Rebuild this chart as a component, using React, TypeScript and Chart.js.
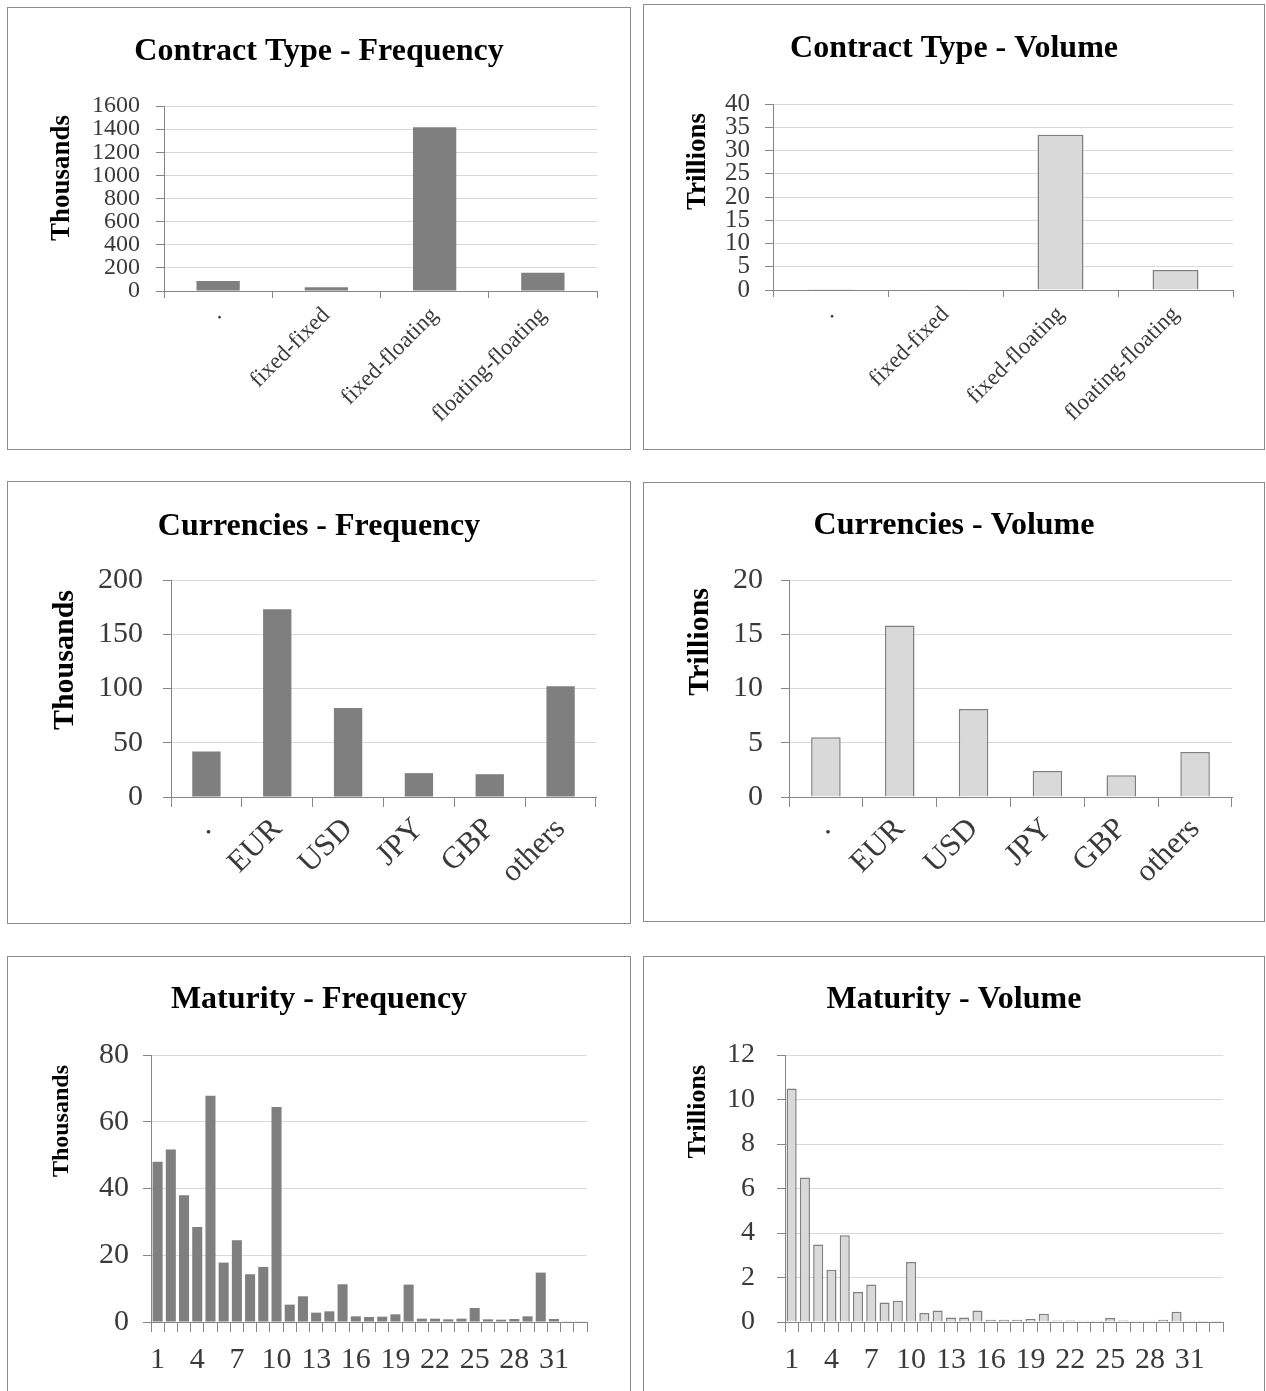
import React, { useEffect, useRef } from 'react';
import { Chart, registerables } from 'chart.js';

Chart.register(...registerables);

// ---------- data ----------
const contractLabels = ['.', 'fixed-fixed', 'fixed-floating', 'floating-floating'];
const contractFrequency = [86, 32, 1416, 158];
const contractVolume = [0.2, 0.15, 33.4, 4.3];

const currencyLabels = ['.', 'EUR', 'USD', 'JPY', 'GBP', 'others'];
const currencyFrequency = [42, 173, 82, 22, 21, 102];
const currencyVolume = [5.5, 15.8, 8.1, 2.4, 2.0, 4.15];

const maturityLabels = [
  '1', '2', '3', '4', '5', '6', '7', '8', '9', '10', '11',
  '12', '13', '14', '15', '16', '17', '18', '19', '20', '21', '22',
  '23', '24', '25', '26', '27', '28', '29', '30', '31', '32', '33',
];
const maturityFrequency = [
  48, 51.7, 38, 28.5, 67.8, 17.8, 24.5, 14.3, 16.5, 64.4, 5.2,
  7.7, 2.8, 3.2, 11.3, 1.7, 1.5, 1.6, 2.3, 11.2, 1.0, 1.0,
  0.8, 1.0, 4.2, 0.8, 0.7, 0.9, 1.7, 14.8, 0.9, 0.2, 0.2,
];
const maturityVolume = [
  10.5, 6.5, 3.48, 2.35, 3.9, 1.35, 1.68, 0.88, 0.96, 2.7, 0.4,
  0.52, 0.2, 0.2, 0.52, 0.1, 0.1, 0.1, 0.13, 0.37, 0.07, 0.07,
  0.06, 0.06, 0.18, 0.07, 0.06, 0.06, 0.1, 0.46, 0.06, 0.05, 0.05,
];

// ---------- styles ----------
const FONT = '"Liberation Serif", "Times New Roman", serif';
const AXIS = '#868686';
const GRID = '#d9d9d9';
const TICK_TEXT = '#3a3a3a';
const DARK_FILL = '#7f7f7f';
const LIGHT_FILL = '#d9d9d9';
const LIGHT_BORDER = '#7f7f7f';

type Spec = {
  key: string;
  left: number; top: number; right: number; bottom: number;
  title: string; titleY: number;
  yTitle: string; yTitleX: number; yTitleOffset: number; yTitleSize: number;
  labels: string[]; values: number[];
  dark: boolean;
  yMax: number; yStep: number;
  plotL: number; plotT: number; plotR: number; plotB: number;
  yTickSize: number; xTickSize: number; yPad: number; xPad: number;
  rotation: number; every: number; barPct: number; xTickLen: number;
};

const specs: Spec[] = [
  {
    key: 'tl', left: 7, top: 7, right: 630, bottom: 449,
    title: 'Contract Type - Frequency', titleY: 52,
    yTitle: 'Thousands', yTitleX: 62, yTitleOffset: 9, yTitleSize: 27,
    labels: contractLabels, values: contractFrequency, dark: true,
    yMax: 1600, yStep: 200,
    plotL: 164, plotT: 106, plotR: 597, plotB: 291,
    yTickSize: 24, xTickSize: 23, yPad: 16, xPad: 4,
    rotation: 45, every: 1, barPct: 0.4, xTickLen: 7,
  },
  {
    key: 'tr', left: 643, top: 4, right: 1264, bottom: 449,
    title: 'Contract Type - Volume', titleY: 49,
    yTitle: 'Trillions', yTitleX: 698, yTitleOffset: 9, yTitleSize: 27,
    labels: contractLabels, values: contractVolume, dark: false,
    yMax: 40, yStep: 5,
    plotL: 773, plotT: 104, plotR: 1233, plotB: 290,
    yTickSize: 25, xTickSize: 23, yPad: 15, xPad: 4,
    rotation: 45, every: 1, barPct: 0.4, xTickLen: 7,
  },
  {
    key: 'ml', left: 7, top: 481, right: 630, bottom: 923,
    title: 'Currencies - Frequency', titleY: 527,
    yTitle: 'Thousands', yTitleX: 65, yTitleOffset: 10, yTitleSize: 30,
    labels: currencyLabels, values: currencyFrequency, dark: true,
    yMax: 200, yStep: 50,
    plotL: 171, plotT: 580, plotR: 596, plotB: 797,
    yTickSize: 30, xTickSize: 31, yPad: 20, xPad: 4,
    rotation: 45, every: 1, barPct: 0.4, xTickLen: 10,
  },
  {
    key: 'mr', left: 643, top: 482, right: 1264, bottom: 921,
    title: 'Currencies - Volume', titleY: 526,
    yTitle: 'Trillions', yTitleX: 700, yTitleOffset: 8, yTitleSize: 30,
    labels: currencyLabels, values: currencyVolume, dark: false,
    yMax: 20, yStep: 5,
    plotL: 789, plotT: 580, plotR: 1232, plotB: 797,
    yTickSize: 30, xTickSize: 31, yPad: 18, xPad: 4,
    rotation: 45, every: 1, barPct: 0.4, xTickLen: 10,
  },
  {
    key: 'bl', left: 7, top: 956, right: 630, bottom: 1406,
    title: 'Maturity - Frequency', titleY: 1000,
    yTitle: 'Thousands', yTitleX: 62, yTitleOffset: 10, yTitleSize: 24,
    labels: maturityLabels, values: maturityFrequency, dark: true,
    yMax: 80, yStep: 20,
    plotL: 151, plotT: 1055, plotR: 587, plotB: 1322,
    yTickSize: 30, xTickSize: 30, yPad: 14, xPad: 10,
    rotation: 0, every: 3, barPct: 0.76, xTickLen: 10,
  },
  {
    key: 'br', left: 643, top: 956, right: 1264, bottom: 1406,
    title: 'Maturity - Volume', titleY: 1000,
    yTitle: 'Trillions', yTitleX: 698, yTitleOffset: 10, yTitleSize: 26,
    labels: maturityLabels, values: maturityVolume, dark: false,
    yMax: 12, yStep: 2,
    plotL: 785, plotT: 1055, plotR: 1223, plotB: 1322,
    yTickSize: 28, xTickSize: 30, yPad: 22, xPad: 10,
    rotation: 0, every: 3, barPct: 0.76, xTickLen: 10,
  },
];

const titlesPlugin = {
  id: 'panelTitles',
  afterDraw(chart: any, _args: any, opts: any) {
    const { ctx, chartArea } = chart;
    ctx.save();
    ctx.fillStyle = '#000000';
    ctx.textAlign = 'center';
    ctx.textBaseline = 'middle';
    ctx.font = `bold 32px ${FONT}`;
    ctx.fillText(opts.title, opts.titleX, opts.titleY);
    ctx.translate(opts.axisX, chartArea.top + opts.axisOffset);
    ctx.rotate(-Math.PI / 2);
    ctx.textAlign = 'right';
    ctx.font = `bold ${opts.axisSize}px ${FONT}`;
    ctx.fillText(opts.axisTitle, 0, 0);
    ctx.restore();
  },
};

function Panel({ s }: { s: Spec }) {
  const ref = useRef<HTMLCanvasElement>(null);
  const ox = s.left + 1;
  const oy = s.top + 1;
  const W = s.right - s.left - 1;
  const H = s.bottom - s.top - 1;

  useEffect(() => {
    if (!ref.current) return;
    const plotLeft = s.plotL - ox;
    const plotTop = s.plotT - oy;
    const plotRight = s.plotR - ox;
    const plotBottom = s.plotB - oy;
    const chart = new Chart(ref.current, {
      type: 'bar',
      data: {
        labels: s.labels,
        datasets: [
          {
            data: s.values,
            backgroundColor: s.dark ? DARK_FILL : LIGHT_FILL,
            borderColor: s.dark ? DARK_FILL : LIGHT_BORDER,
            borderWidth: s.dark ? 0 : 1.5,
            barPercentage: s.barPct,
            categoryPercentage: 1,
          },
        ],
      },
      plugins: [titlesPlugin as any],
      options: {
        animation: false,
        responsive: false,
        devicePixelRatio: 1,
        layout: {
          autoPadding: false,
          padding: { left: 0, top: plotTop, right: W - plotRight, bottom: 0 },
        },
        plugins: {
          legend: { display: false },
          tooltip: { enabled: false },
          title: { display: false },
          panelTitles: {
            title: s.title,
            titleX: W / 2,
            titleY: s.titleY - oy,
            axisTitle: s.yTitle,
            axisX: s.yTitleX - ox,
            axisOffset: s.yTitleOffset,
            axisSize: s.yTitleSize,
          },
        } as any,
        scales: {
          x: {
            offset: true,
            grid: {
              offset: true,
              drawOnChartArea: false,
              drawTicks: true,
              tickLength: s.xTickLen,
              color: AXIS,
              lineWidth: 1,
            },
            border: { display: true, color: AXIS, width: 1 },
            ticks: {
              autoSkip: false,
              minRotation: s.rotation,
              maxRotation: s.rotation,
              padding: s.xPad,
              color: TICK_TEXT,
              font: { family: FONT, size: s.xTickSize },
              callback: (_v: any, i: number) => (i % s.every === 0 ? s.labels[i] : ''),
            },
            afterFit: (scale: any) => {
              scale.height = H - plotBottom;
            },
          },
          y: {
            min: 0,
            max: s.yMax,
            grid: {
              color: (c: any) => (c.tick && c.tick.value === 0 ? AXIS : GRID),
              tickColor: AXIS,
              tickLength: 8,
              drawTicks: true,
              lineWidth: 1,
            },
            border: { display: true, color: AXIS, width: 1 },
            ticks: {
              autoSkip: false,
              stepSize: s.yStep,
              padding: s.yPad,
              color: TICK_TEXT,
              font: { family: FONT, size: s.yTickSize },
              callback: (v: any) => String(v),
            },
            afterFit: (scale: any) => {
              scale.width = plotLeft;
            },
          },
        },
      } as any,
    });
    return () => chart.destroy();
  }, []);

  return (
    <div
      style={{
        position: 'absolute',
        left: s.left,
        top: s.top,
        width: s.right - s.left + 1,
        height: s.bottom - s.top + 1,
        boxSizing: 'border-box',
        border: '1px solid #8c8c8c',
        background: '#ffffff',
      }}
    >
      <canvas ref={ref} width={W} height={H} style={{ display: 'block', width: W, height: H }} />
    </div>
  );
}

export default function App() {
  return (
    <div
      style={{
        position: 'absolute',
        left: 0,
        top: 0,
        width: 1266,
        height: 1391,
        overflow: 'hidden',
        background: '#ffffff',
      }}
    >
      {specs.map((s) => (
        <Panel key={s.key} s={s} />
      ))}
    </div>
  );
}
